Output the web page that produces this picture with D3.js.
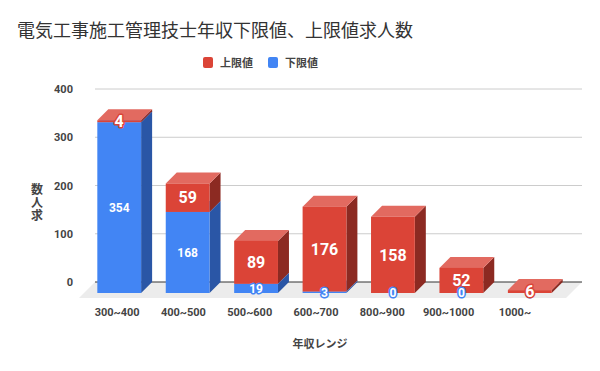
<!DOCTYPE html>
<html>
<head>
<meta charset="utf-8">
<script src="https://cdn.jsdelivr.net/npm/d3@7"></script>
<style>
  body { margin: 0; background: #fff; }
  text { font-family: Roboto, "Noto Sans CJK JP", sans-serif; }
</style>
</head>
<body>
<div id="chart"></div>
<script>
const categories = ["300~400", "400~500", "500~600", "600~700", "800~900", "900~1000", "1000~"];
const lowerValues = [354, 168, 19, 3, 0, 0, 0];   // 下限値
const upperValues = [4, 59, 89, 176, 158, 52, 6];  // 上限値
const yTicks = [0, 100, 200, 300, 400];

const width = 600, height = 371;
const depthX = 11, depthY = 11;

const series = [
  { key: "lower", name: "下限値", values: lowerValues, front: "#4285f4", side: "#2a56a6", top: "#7aa7f7", big: false },
  { key: "upper", name: "上限値", values: upperValues, front: "#db4437", side: "#8c2a22", top: "#e26a60", big: true }
];

const svg = d3.select("#chart")
  .append("svg")
    .attr("width", width)
    .attr("height", height)
    .attr("viewBox", [0, 0, width, height]);

// back plane scales
const yScale = d3.scaleLinear().domain([0, 400]).range([282, 89]);
const xBack = [95, 582];

// front face band scale
const xScale = d3.scaleBand()
  .domain(categories)
  .range([85, 564])
  .paddingInner(0.36)
  .paddingOuter(0.18);

// tick labels sit on a slightly narrower band
const xLabelScale = d3.scaleBand()
  .domain(categories)
  .range([84, 548]);

// title
svg.append("text")
  .attr("x", 17)
  .attr("y", 37)
  .attr("font-family", "'Noto Sans CJK JP', sans-serif")
  .attr("font-size", 18)
  .attr("fill", "#333")
  .text("電気工事施工管理技士年収下限値、上限値求人数");

// legend
const legend = svg.append("g").attr("font-size", 11).attr("font-weight", "bold").attr("fill", "#444");
[{ s: series[1], x: 203 }, { s: series[0], x: 268 }].forEach(({ s, x }) => {
  legend.append("rect")
    .attr("x", x).attr("y", 57).attr("width", 10).attr("height", 11).attr("rx", 2)
    .attr("fill", s.front);
  legend.append("text")
    .attr("x", x + 17).attr("y", 67)
    .attr("font-family", "'Noto Sans CJK JP', sans-serif")
    .text(s.name);
});

// gridlines
svg.append("g")
  .selectAll("line")
  .data(yTicks.filter(d => d > 0))
  .join("line")
    .attr("x1", xBack[0]).attr("x2", xBack[1])
    .attr("y1", d => yScale(d)).attr("y2", d => yScale(d))
    .attr("stroke", "#ccc");

// y tick labels
svg.append("g")
  .selectAll("text")
  .data(yTicks)
  .join("text")
    .attr("x", 73)
    .attr("y", d => yScale(d) + 4)
    .attr("text-anchor", "end")
    .attr("font-size", 11)
    .attr("font-weight", "bold")
    .attr("fill", "#444")
    .text(d => d);

// y axis title, characters stacked
const yTitle = ["数", "人", "求"];
svg.append("g")
  .selectAll("text")
  .data(yTitle)
  .join("text")
    .attr("x", 37)
    .attr("y", (d, i) => 194 + i * 13)
    .attr("text-anchor", "middle")
    .attr("font-family", "'Noto Sans CJK JP', sans-serif")
    .attr("font-size", 12)
    .attr("font-weight", "bold")
    .attr("fill", "#444")
    .text(d => d);

// floor
const floorDepth = 16;
svg.append("polygon")
  .attr("points", [
    [xBack[0], yScale(0)], [xBack[1], yScale(0)],
    [xBack[1] - floorDepth, yScale(0) + floorDepth], [xBack[0] - floorDepth, yScale(0) + floorDepth]
  ].join(" "))
  .attr("fill", "#ececec");

// baseline
svg.append("line")
  .attr("x1", xBack[0]).attr("x2", xBack[1])
  .attr("y1", yScale(0)).attr("y2", yScale(0))
  .attr("stroke", "#333");

// stacked 3D bars
const stackData = categories.map((c, i) => ({ cat: c, lower: lowerValues[i], upper: upperValues[i] }));
const stacked = d3.stack().keys(["lower", "upper"])(stackData);

// front face y: back plane shifted down by depth
const yFront = v => yScale(v) + depthY;

const bars = svg.append("g");
stacked.forEach((serie, si) => {
  const s = series[si];
  serie.forEach((d, i) => {
    if (d[1] - d[0] <= 0) return;
    const x0 = xScale(categories[i]);
    const x1 = x0 + xScale.bandwidth();
    const yt = yFront(d[1]);
    const yb = yFront(d[0]);
    const g = bars.append("g");
    g.append("polygon")
      .attr("points", [[x1, yt], [x1 + depthX, yt - depthY], [x1 + depthX, yb - depthY], [x1, yb]].join(" "))
      .attr("fill", s.side);
    g.append("polygon")
      .attr("points", [[x0, yt], [x0 + depthX, yt - depthY], [x1 + depthX, yt - depthY], [x1, yt]].join(" "))
      .attr("fill", s.top);
    g.append("rect")
      .attr("x", x0).attr("y", yt)
      .attr("width", x1 - x0).attr("height", Math.max(yb - yt, 0.5))
      .attr("fill", s.front);
  });
});

// data labels
const labels = svg.append("g").attr("font-weight", "bold").attr("text-anchor", "middle");
stacked.forEach((serie, si) => {
  const s = series[si];
  serie.forEach((d, i) => {
    const cx = xScale(categories[i]) + xScale.bandwidth() / 2;
    const h = yFront(d[0]) - yFront(d[1]);
    const cy = (yFront(d[0]) + yFront(d[1])) / 2;
    const fs = s.big ? 16 : 12;
    const small = h < fs;
    labels.append("text")
      .attr("x", cx)
      .attr("y", cy + fs * 0.36)
      .attr("font-size", fs)
      .attr("fill", "#fff")
      .attr("stroke", small ? s.front : "none")
      .attr("stroke-width", small ? 3 : 0)
      .attr("stroke-linejoin", "round")
      .attr("paint-order", "stroke")
      .text(d.data[serie.key]);
  });
});

// x tick labels
svg.append("g")
  .selectAll("text")
  .data(categories)
  .join("text")
    .attr("x", d => xLabelScale(d) + xLabelScale.bandwidth() / 2)
    .attr("y", 316)
    .attr("text-anchor", "middle")
    .attr("font-size", 11)
    .attr("font-weight", "bold")
    .attr("fill", "#444")
    .text(d => d);

// x axis title
svg.append("text")
  .attr("x", 320)
  .attr("y", 348)
  .attr("text-anchor", "middle")
  .attr("font-family", "'Noto Sans CJK JP', sans-serif")
  .attr("font-size", 11)
  .attr("font-weight", "bold")
  .attr("fill", "#444")
  .text("年収レンジ");
</script>
</body>
</html>
